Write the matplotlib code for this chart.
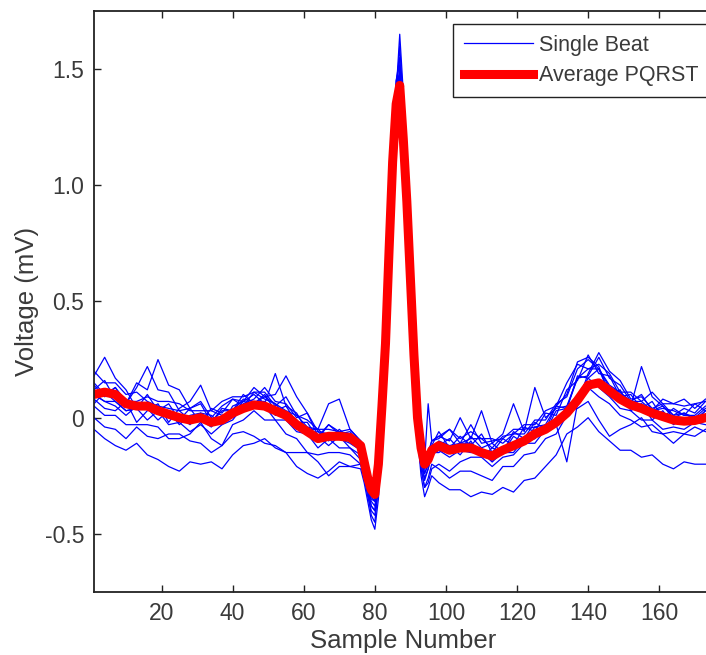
import matplotlib
matplotlib.use("Agg")
import matplotlib.pyplot as plt

plt.rcParams['font.family'] = ['Liberation Sans', 'DejaVu Sans']

# ---------------- data ----------------
# sample positions for the single beats
beat_x = [1, 4, 7, 10, 13, 16, 19, 22, 25, 28, 31, 34, 37, 40, 43, 46, 49, 52, 55, 58, 61, 64, 67, 70, 73,
          76, 77, 78, 79, 80, 81, 82, 83, 84, 85, 86, 87, 88, 89, 90, 91, 92, 93, 94, 95, 96,
          98, 101, 104, 107, 110, 113, 116, 119, 122, 125, 128, 131, 134, 137, 140, 143, 146, 149, 152, 155,
          158, 161, 164, 167, 170, 173]

beat_a = [0.18, 0.26, 0.17, 0.12, 0.04, 0.10, 0.03, 0.06, -0.01, 0.04, 0.07, 0.0, 0.05, 0.08, 0.05, 0.11, 0.08, 0.06, 0.01, -0.01, -0.07, -0.06, -0.10, -0.05, -0.09,
          -0.12, -0.2, -0.3, -0.38, -0.40, -0.25, 0.02, 0.35, 0.78, 1.15, 1.45, 1.55, 1.3, 0.98, 0.62, 0.28, 0.0, -0.16, -0.24, -0.2, -0.12,
          -0.06, -0.13, -0.08, -0.12, -0.07, -0.15, -0.09, -0.12, -0.04, -0.06, 0.02, 0.01, 0.12, 0.16, 0.27, 0.19, 0.18, 0.09, 0.1, 0.04, 0.07, 0.0, 0.04, 0.01, 0.06, 0.03]
beat_b = [0.15, 0.10, 0.13, 0.06, 0.15, 0.12, 0.25, 0.14, 0.12, 0.04, 0.06, -0.02, 0.04, 0.03, 0.1, 0.06, 0.1, 0.03, 0.05, -0.02, -0.02, -0.09, -0.03, -0.07, -0.08,
          -0.14, -0.22, -0.3, -0.35, -0.36, -0.22, 0.05, 0.3, 0.7, 1.05, 1.32, 1.40, 1.18, 0.9, 0.58, 0.25, -0.02, -0.15, -0.22, -0.17, -0.12,
          -0.12, -0.09, -0.14, -0.08, -0.13, -0.11, -0.15, -0.06, -0.09, -0.02, -0.05, 0.05, 0.04, 0.18, 0.17, 0.21, 0.1, 0.12, 0.03, 0.06, -0.01, 0.03, -0.03, 0.0, -0.02, 0.03]
beat_c = [0.12, 0.16, 0.08, 0.06, 0.13, 0.22, 0.12, 0.11, 0.03, 0.04, -0.02, 0.04, 0.02, 0.08, 0.07, 0.1, 0.06, 0.19, 0.05, 0.02, -0.06, -0.08, -0.12, -0.08, -0.13,
          -0.16, -0.23, -0.32, -0.42, -0.45, -0.3, -0.02, 0.3, 0.7, 1.1, 1.4, 1.5, 1.25, 0.95, 0.6, 0.25, -0.05, -0.2, -0.27, -0.22, -0.15,
          -0.15, -0.12, -0.16, -0.1, -0.17, -0.13, -0.15, -0.08, -0.11, -0.04, -0.06, 0.03, 0.04, 0.17, 0.18, 0.26, 0.17, 0.14, 0.07, 0.1, 0.03, 0.05, 0.0, 0.02, -0.01, 0.03]
beat_d = [-0.05, -0.09, -0.12, -0.14, -0.11, -0.16, -0.18, -0.21, -0.23, -0.19, -0.2, -0.19, -0.22, -0.16, -0.12, -0.11, -0.09, -0.13, -0.15, -0.21, -0.24, -0.26, -0.23, -0.19, -0.21,
          -0.22, -0.28, -0.36, -0.44, -0.48, -0.35, -0.1, 0.25, 0.68, 1.05, 1.35, 1.45, 1.22, 0.92, 0.58, 0.22, -0.08, -0.25, -0.34, -0.3, -0.25,
          -0.28, -0.31, -0.31, -0.34, -0.32, -0.33, -0.3, -0.32, -0.27, -0.26, -0.21, -0.16, -0.07, -0.04, 0.0, -0.06, -0.1, -0.14, -0.14, -0.17, -0.16, -0.2, -0.22, -0.19, -0.2, -0.2]
beat_e = [0.0, -0.04, -0.05, -0.09, -0.04, -0.08, -0.09, -0.07, -0.07, -0.1, -0.11, -0.15, -0.12, -0.07, -0.06, -0.08, -0.11, -0.12, -0.15, -0.15, -0.15, -0.16, -0.15, -0.15, -0.16,
          -0.2, -0.26, -0.34, -0.4, -0.42, -0.3, -0.05, 0.28, 0.7, 1.08, 1.38, 1.48, 1.25, 0.95, 0.62, 0.28, -0.04, -0.22, -0.3, -0.26, -0.2,
          -0.22, -0.26, -0.23, -0.23, -0.25, -0.27, -0.21, -0.21, -0.16, -0.15, -0.09, -0.07, 0.01, 0.07, 0.13, 0.09, 0.06, 0.01, -0.01, -0.04, -0.03, -0.07, -0.06, -0.07, -0.04, -0.06]
beat_f = [0.08, 0.04, 0.03, 0.07, -0.02, 0.03, 0.06, -0.02, 0.04, 0.07, 0.14, 0.03, 0.01, 0.0, 0.06, 0.08, 0.13, 0.07, 0.06, 0.0, 0.02, -0.08, -0.03, -0.06, -0.07,
          -0.1, -0.16, -0.25, -0.3, -0.32, -0.18, 0.08, 0.4, 0.8, 1.15, 1.4, 1.48, 1.2, 0.92, 0.6, 0.28, 0.02, -0.12, -0.19, 0.06, -0.1,
          -0.09, -0.05, -0.11, -0.03, -0.11, -0.1, -0.09, -0.05, -0.05, -0.04, -0.03, 0.05, 0.1, 0.24, 0.26, 0.22, 0.1, 0.1, 0.04, 0.06, 0.03, 0.08, 0.06, 0.08, 0.04, 0.08]
beat_g = [0.2, 0.15, 0.15, 0.1, 0.11, 0.07, 0.05, 0.04, 0.03, -0.01, -0.01, -0.04, 0.01, 0.02, 0.07, 0.06, 0.09, 0.1, 0.18, 0.09, 0.02, -0.06, -0.07, -0.07, -0.06,
          -0.11, -0.18, -0.27, -0.33, -0.35, -0.22, 0.06, 0.35, 0.75, 1.12, 1.38, 1.6, 1.35, 1.0, 0.65, 0.3, 0.02, -0.14, -0.22, -0.18, -0.13,
          -0.11, -0.15, -0.11, -0.11, -0.14, -0.19, -0.13, -0.13, -0.09, -0.09, -0.03, -0.03, -0.19, 0.06, 0.19, 0.28, 0.2, 0.16, 0.08, 0.09, 0.04, 0.06, 0.01, 0.04, 0.02, 0.07]
beat_h = [0.1, 0.07, 0.07, 0.03, 0.04, -0.01, 0.03, 0.03, 0.01, -0.03, 0.02, -0.02, 0.03, 0.03, 0.08, 0.07, 0.07, 0.01, 0.01, -0.05, -0.05, -0.05, 0.06, 0.08, -0.05,
          -0.1, -0.15, -0.22, -0.27, -0.28, -0.15, 0.1, 0.42, 0.82, 1.18, 1.45, 1.52, 1.28, 0.98, 0.64, 0.3, 0.02, -0.12, -0.18, -0.15, -0.1,
          -0.08, -0.1, 0.0, -0.09, 0.03, -0.11, -0.07, 0.06, -0.06, 0.13, 0.0, 0.04, 0.05, 0.17, 0.21, 0.21, 0.14, 0.11, 0.05, 0.22, 0.09, 0.05, 0.01, 0.02, 0.0, 0.04]
beat_i = [0.05, 0.01, 0.01, -0.03, -0.03, -0.03, -0.04, -0.09, -0.09, -0.07, -0.02, -0.09, -0.12, -0.03, -0.01, 0.03, -0.01, -0.01, -0.07, -0.09, -0.15, -0.19, -0.25, -0.21, -0.21,
          -0.2, -0.25, -0.32, -0.38, -0.4, -0.28, -0.02, 0.3, 0.72, 1.1, 1.38, 1.46, 1.22, 0.92, 0.58, 0.24, -0.06, -0.22, -0.3, -0.28, -0.22,
          -0.2, -0.23, -0.19, -0.17, -0.17, -0.21, -0.17, -0.16, -0.11, -0.11, -0.05, -0.03, 0.03, 0.04, 0.07, -0.01, -0.08, -0.05, -0.03, 0.0, -0.06, -0.07, -0.11, -0.07, -0.08, -0.05]
beat_j = [0.14, 0.09, 0.13, 0.07, 0.07, 0.09, 0.07, 0.07, 0.06, 0.03, 0.03, 0.03, 0.07, 0.09, 0.09, 0.11, 0.11, 0.05, 0.09, 0.01, -0.01, -0.05, -0.05, -0.06, -0.05,
          -0.1, -0.17, -0.26, -0.32, -0.33, -0.2, 0.06, 0.36, 0.76, 1.12, 1.36, 1.42, 1.2, 0.94, 0.6, 0.26, 0.0, -0.14, -0.2, -0.16, -0.1,
          -0.08, -0.05, -0.09, -0.06, -0.09, -0.09, -0.11, -0.07, -0.07, -0.01, -0.01, 0.06, 0.09, 0.21, 0.25, 0.21, 0.13, 0.11, 0.07, 0.07, 0.03, 0.04, 0.03, 0.01, 0.01, 0.05]
beat_k = [0.1, 0.07, 0.05, 0.01, 0.05, 0.05, 0.03, -0.03, -0.02, -0.06, -0.03, -0.07, -0.03, -0.01, 0.05, 0.05, 0.05, -0.01, -0.01, -0.06, -0.07, -0.13, -0.09, -0.13, -0.13,
          -0.18, -0.24, -0.3, -0.36, -0.38, -0.25, 0.02, 0.32, 0.72, 1.1, 1.36, 1.44, 1.22, 0.93, 0.6, 0.26, -0.02, -0.18, -0.26, -0.22, -0.16,
          -0.14, -0.17, -0.14, -0.15, -0.15, -0.19, -0.15, -0.15, -0.09, -0.09, -0.05, -0.03, 0.05, 0.09, 0.17, 0.13, 0.09, 0.04, 0.03, -0.01, -0.01, -0.05, -0.04, -0.05, -0.02, -0.03]
beat_l = [0.06, 0.11, 0.07, 0.03, 0.04, 0.04, -0.01, 0.03, -0.03, 0.01, 0.02, 0.01, -0.03, 0.05, 0.07, 0.13, 0.09, 0.06, 0.03, 0.01, -0.04, -0.05, -0.09, -0.09, -0.11,
          -0.14, -0.2, -0.28, -0.34, -0.36, -0.22, 0.04, 0.34, 0.74, 1.1, 1.4, 1.65, 1.4, 1.05, 0.66, 0.3, 0.0, -0.16, -0.24, -0.2, -0.14,
          -0.1, -0.12, -0.11, -0.09, -0.09, -0.13, -0.08, -0.07, -0.03, -0.03, 0.03, 0.05, 0.15, 0.23, 0.21, 0.23, 0.19, 0.11, 0.11, 0.07, 0.11, 0.06, 0.06, 0.05, 0.06, 0.07]

beats = [beat_a, beat_b, beat_c, beat_d, beat_e, beat_f, beat_g, beat_h, beat_i, beat_j, beat_k, beat_l]

# average PQRST
avg_x = [1, 4, 7, 10, 13, 16, 19, 22, 25, 28, 31, 34, 37, 40, 43, 46, 49, 52, 55, 58, 61, 64, 67, 70, 73,
         76, 77, 78, 79, 80, 81, 82, 83, 84, 85, 86, 87, 88, 89, 90, 91, 92, 93, 94, 95, 96,
         98, 101, 104, 107, 110, 113, 116, 119, 122, 125, 128, 131, 134, 137, 140, 143, 146, 149, 152, 155,
         158, 161, 164, 167, 170, 173]
avg_y = [0.10, 0.11, 0.10, 0.06, 0.05, 0.05, 0.03, 0.015, 0.0, -0.01, 0.0, -0.02, -0.01, 0.02, 0.04, 0.055, 0.05, 0.03, 0.01, -0.03, -0.06, -0.09, -0.08, -0.08, -0.085,
         -0.12, -0.19, -0.26, -0.31, -0.33, -0.2, 0.05, 0.32, 0.72, 1.1, 1.35, 1.43, 1.2, 0.93, 0.6, 0.27, 0.0, -0.13, -0.2, -0.18, -0.14,
         -0.12, -0.14, -0.13, -0.13, -0.15, -0.165, -0.14, -0.12, -0.1, -0.07, -0.05, -0.02, 0.02, 0.075, 0.14, 0.15, 0.115, 0.08, 0.055, 0.04,
         0.02, 0.005, -0.01, -0.015, -0.012, 0.0]

x_ticks = [20, 40, 60, 80, 100, 120, 140, 160]
y_ticks = [-0.5, 0, 0.5, 1.0, 1.5]
y_tick_labels = ['-0.5', '0', '0.5', '1.0', '1.5']

# ---------------- plot ----------------
W, H = 706, 655
fig = plt.figure(figsize=(W / 100, H / 100), dpi=100)
left_px, right_px, top_px, bot_px = 94, 712, 11, 592
ax = fig.add_axes([left_px / W, 1 - bot_px / H, (right_px - left_px) / W, (bot_px - top_px) / H])

txt = '#3a3a3a'
for i, b in enumerate(beats):
    ax.plot(beat_x, b, color='#0000ff', lw=0.9, label='Single Beat' if i == 0 else None)
ax.plot(avg_x, avg_y, color='#ff0000', lw=6.5, label='Average PQRST')

ax.set_xlim(1, 1 + (right_px - left_px) / 3.555)
ax.set_ylim(-0.75, 1.75)
ax.set_xticks(x_ticks)
ax.set_yticks(y_ticks)
ax.set_yticklabels(y_tick_labels)
ax.tick_params(direction='in', length=5, width=1, top=True, right=False,
               labelsize=16.5, colors='#222222', labelcolor=txt, pad=7)
for s in ax.spines.values():
    s.set_linewidth(1.3)
    s.set_color('#222222')

ax.set_xlabel('Sample Number', fontsize=18.5, color=txt, labelpad=3)
ax.set_ylabel('Voltage (mV)', fontsize=18.5, color=txt, labelpad=4)

leg = ax.legend(loc='upper left', bbox_to_anchor=(453 / W, 1 - 24 / H), bbox_transform=fig.transFigure,
                borderaxespad=0, fontsize=15.5, frameon=True, fancybox=False, framealpha=1,
                edgecolor='#222222', handlelength=3.2, handletextpad=0.3, borderpad=0.5,
                labelspacing=0.45)
leg.get_frame().set_linewidth(1.0)
for t in leg.get_texts():
    t.set_color(txt)

fig.savefig('out.png', dpi=100)
